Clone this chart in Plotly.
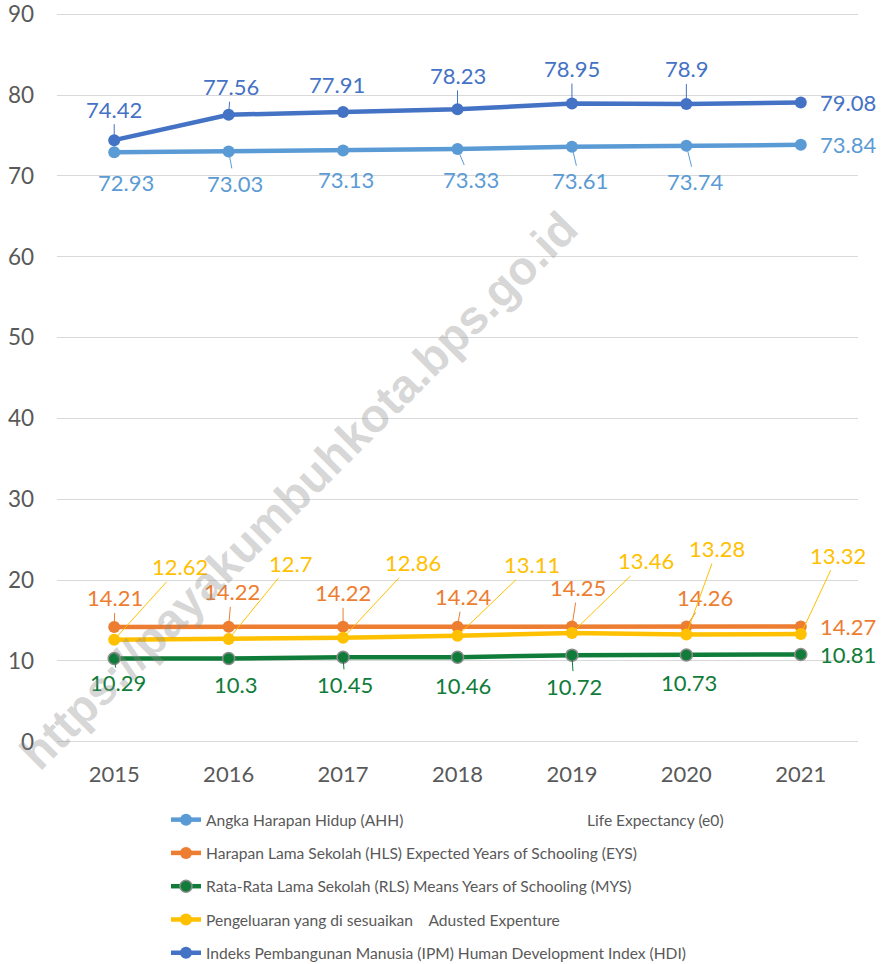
import plotly.graph_objects as go

years = ["2015", "2016", "2017", "2018", "2019", "2020", "2021"]
ahh = [72.93, 73.03, 73.13, 73.33, 73.61, 73.74, 73.84]
hls = [14.21, 14.22, 14.22, 14.24, 14.25, 14.26, 14.27]
rls = [10.29, 10.3, 10.45, 10.46, 10.72, 10.73, 10.81]
peng = [12.62, 12.7, 12.86, 13.11, 13.46, 13.28, 13.32]
ipm = [74.42, 77.56, 77.91, 78.23, 78.95, 78.9, 79.08]
y_ticks = [0, 10, 20, 30, 40, 50, 60, 70, 80, 90]

NB = "\u00a0"
names = [
    "Angka Harapan Hidup (AHH)" + NB * 46 + "Life Expectancy (e0)",
    "Harapan Lama Sekolah (HLS) Expected Years of Schooling (EYS)",
    "Rata-Rata Lama Sekolah (RLS) Means Years of Schooling (MYS)",
    "Pengeluaran yang di sesuaikan" + NB * 4 + "Adusted Expenture",
    "Indeks Pembangunan Manusia (IPM) Human Development Index (HDI)",
]
colors = ["#5B9BD5", "#ED7D31", "#107C3A", "#FFC000", "#4472C4"]
series = [ahh, hls, rls, peng, ipm]

# label offsets in pixels (ax, ay) relative to the point; last point labels go to the right
offsets = [
    [(12, 30), (6, 32), (3, 29), (13, 31), (8, 34), (9, 36), None],
    [(1, -29), (3, -35), (0, -34), (5, -30), (6, -39), (19, -29), None],
    [(4, 24), (7, 26), (2, 27), (5, 28), (2, 31), (3, 27), None],
    [(66, -73), (62, -76), (70, -75), (74, -71), (74, -72), (31, -86), (37, -79)],
    [(0, -31), (2, -28), (-6, -27), (0, -34), (0, -35), (0, -35), None],
]
leader = [
    [False, True, False, True, True, True, False],
    [True, True, True, True, True, True, False],
    [True, False, True, False, True, False, False],
    [True, True, True, True, True, True, True],
    [True, True, False, True, True, True, False],
]

fig = go.Figure()
for i, (vals, nm, col) in enumerate(zip(series, names, colors)):
    marker = dict(size=12, color=col)
    if i == 2:
        marker["line"] = dict(color="#8C8C8C", width=1.5)
    fig.add_trace(go.Scatter(
        x=years, y=vals, name=nm, mode="lines+markers",
        line=dict(color=col, width=4.5), marker=marker,
        legendgroup=str(i),
    ))

annotations = []
for i, vals in enumerate(series):
    col = colors[i]
    for j, v in enumerate(vals):
        off = offsets[i][j]
        txt = str(v)
        font = dict(family="Lato", size=22, color=col)
        # category axes take the category's serial number for annotations
        xpos = years.index(years[j])
        if off is None:
            annotations.append(dict(x=xpos, y=v, xref="x", yref="y", text=txt,
                                    showarrow=False, xshift=47, yshift=0, font=font))
        elif leader[i][j]:
            annotations.append(dict(x=xpos, y=v, xref="x", yref="y", text=txt,
                                    showarrow=True, ax=off[0], ay=off[1], arrowhead=0,
                                    arrowwidth=1, arrowcolor=col, standoff=4,
                                    font=font))
        else:
            annotations.append(dict(x=xpos, y=v, xref="x", yref="y", text=txt,
                                    showarrow=False, xshift=off[0], yshift=-off[1],
                                    font=font))

annotations.append(dict(
    x=0.301, y=0.346, xref="paper", yref="paper", xanchor="center", yanchor="middle",
    text="<b>https://payakumbuhkota.bps.go.id</b>", showarrow=False,
    textangle=-45, font=dict(family="Liberation Sans", size=47,
                             color="rgba(140,140,140,0.36)"),
))

W, H = 883, 964
fig.update_layout(
    width=W, height=H,
    margin=dict(l=57, r=25, t=12.8, b=220.8, autoexpand=False),
    paper_bgcolor="white", plot_bgcolor="white",
    showlegend=True,
    legend=dict(x=166 / W, y=1 - 803 / H, xref="container", yref="container",
                xanchor="left", yanchor="top",
                font=dict(family="Lato", size=15.6, color="#595959"),
                tracegroupgap=10, bgcolor="rgba(0,0,0,0)"),
    annotations=annotations,
    font=dict(family="Lato", color="#595959"),
)
fig.update_xaxes(type="category", range=[-0.5, 6.5], showgrid=False, showline=False,
                 ticks="", tickfont=dict(family="Lato", size=22, color="#595959"),
                 ticklabelstandoff=16, automargin=False)
fig.update_yaxes(range=[-0.15, 90.15], tickmode="array", tickvals=y_ticks,
                 showgrid=True, gridcolor="#D9D9D9",
                 gridwidth=1, zeroline=False, showline=False,
                 tickfont=dict(family="Lato", size=22.5, color="#595959"),
                 ticklabelstandoff=22, automargin=False)

fig.write_html("out.html", config={"displayModeBar": False},
               post_script="document.body.style.margin='0';")
